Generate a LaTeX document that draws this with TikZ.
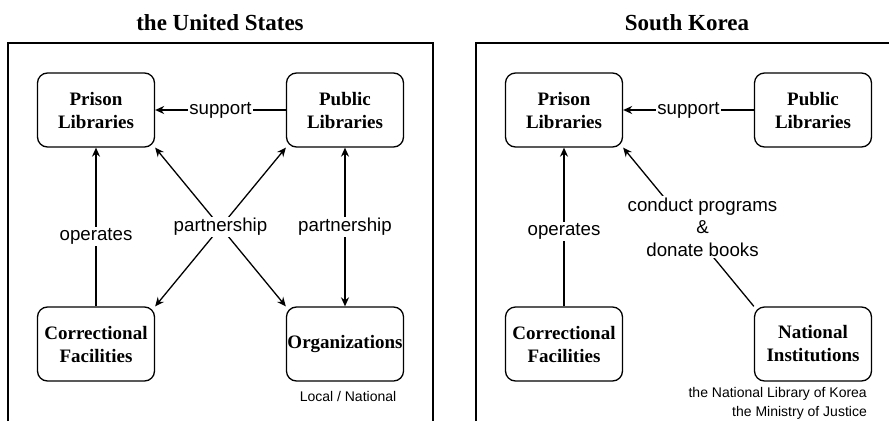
\documentclass[tikz,border=0pt]{standalone}
\usepackage{fontspec}
\setmainfont{Liberation Serif}
\setsansfont{Liberation Sans}
\usetikzlibrary{arrows.meta}

\begin{document}
\begin{tikzpicture}[x = 1pt, y = -1pt,
        box/.style = {draw, line width = 1.3pt, rounded corners = 10pt, minimum width = 117pt, minimum height = 74pt, inner sep = 1pt, align = center, font = \fontsize{19}{23}\selectfont\bfseries},
        lbl/.style = {fill = white, inner sep = 1.5pt, align = center, font = \sffamily\fontsize{18.7}{22.5}\selectfont},
        note/.style = {inner sep = 0pt, align = right, font = \sffamily\fontsize{14}{19}\selectfont},
        head/.style = {font = \fontsize{23}{27}\selectfont\bfseries},
        arr/.style = {line width = 1.3pt, -{Stealth[length = 9pt, width = 8pt]}},
        darr/.style = {line width = 1.3pt, {Stealth[length = 9pt, width = 8pt]}-{Stealth[length = 9pt, width = 8pt]}}]
        \useasboundingbox (0,0) rectangle (889,421);

        \node[head] (0) at (220,23) {the United States};
        \node[head] (10) at (687,23) {South Korea};

        \draw[line width = 1.3pt] (8,421) -- (8,43) -- (433,43) -- (433,421);
        \draw[line width = 1.3pt] (476,421) -- (476,43) -- (889,43);

        \node[box] (1) at (96,110) {Prison\\Libraries};
        \node[box] (2) at (345,110) {Public\\Libraries};
        \node[box] (3) at (96,344) {Correctional\\Facilities};
        \node[box] (4) at (345,344) {Organizations};
        \node[note] (9) at (348,396) {Local / National};

        \node[box] (5) at (564,110) {Prison\\Libraries};
        \node[box] (6) at (813,110) {Public\\Libraries};
        \node[box] (7) at (564,344) {Correctional\\Facilities};
        \node[box] (8) at (813,344) {National\\Institutions};
        \node[note, anchor = east] (11) at (867,403.5) {the National Library of Korea\\the Ministry of Justice};

        \draw[arr] (2) -- node[lbl] {support} (1);
        \draw[arr] (3) -- node[lbl, pos = 0.44] {operates} (1);
        \draw[darr] (1.south east) -- (4.north west);
        \draw[darr] (3.north east) -- node[lbl] {partnership} (2.south west);
        \draw[darr] (2) -- node[lbl] {partnership} (4);

        \draw[arr] (6) -- node[lbl] {support} (5);
        \draw[arr] (7) -- node[lbl, pos = 0.47] {operates} (5);
        \draw[arr] (8.north west) -- node[lbl, xshift = 14pt] {conduct programs\\\&\\donate books} (5.south east);
    \end{tikzpicture}
\end{document}
